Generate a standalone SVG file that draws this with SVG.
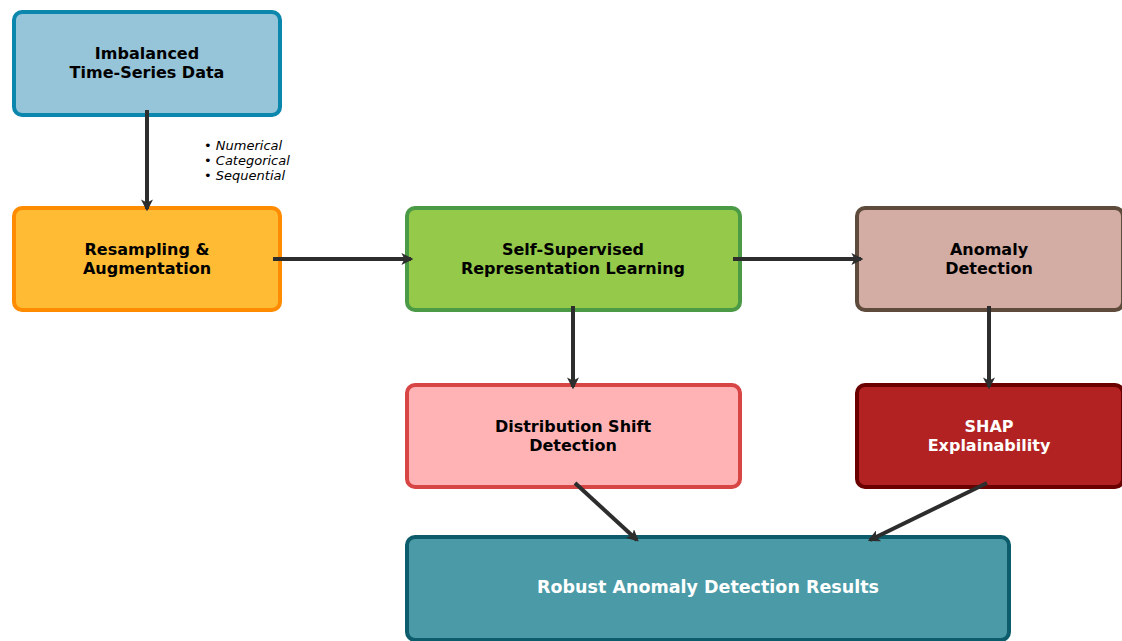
<svg xmlns="http://www.w3.org/2000/svg" width="1122" height="641" viewBox="0 0 1122 641">
<defs>
<style>
.box{stroke-width:4}
.t{font-family:"DejaVu Sans",sans-serif;font-weight:bold;font-size:16px;text-anchor:middle}
.w{fill:#ffffff}
.b{fill:#000000}
.note{font-family:"DejaVu Sans",sans-serif;font-style:italic;font-size:13px;fill:#000}
.c{stroke:#2d2d2d;stroke-width:4;fill:none;marker-end:url(#ah)}
</style>
<marker id="ah" viewBox="0 0 10 10" refX="8" refY="5" markerWidth="3" markerHeight="3" orient="auto" markerUnits="strokeWidth">
<path d="M0,0 L10,5 L0,10 L2.5,5 z" fill="#2d2d2d"/>
</marker>
</defs>
<rect width="1122" height="641" fill="#ffffff"/>
<g id="note">
<text class="note" x="204" y="150">• Numerical</text>
<text class="note" x="204" y="165">• Categorical</text>
<text class="note" x="204" y="180">• Sequential</text>
</g>
<g id="n1">
<rect class="box" x="14" y="12" width="266" height="103" rx="8" fill="#96c4d9" stroke="#0b86ad"/>
<text class="t b" x="147" y="59">Imbalanced</text>
<text class="t b" x="147" y="78">Time-Series Data</text>
</g>
<g id="n2">
<rect class="box" x="14" y="208" width="266" height="102" rx="8" fill="#ffbb33" stroke="#ff8c00"/>
<text class="t b" x="147" y="255">Resampling &amp;</text>
<text class="t b" x="147" y="274">Augmentation</text>
</g>
<g id="n3">
<rect class="box" x="407" y="208" width="333" height="102" rx="8" fill="#94c94a" stroke="#4b9a45"/>
<text class="t b" x="573" y="255">Self-Supervised</text>
<text class="t b" x="573" y="274">Representation Learning</text>
</g>
<g id="n4">
<rect class="box" x="857" y="208" width="266" height="102" rx="8" fill="#d3aca4" stroke="#5e4b3c"/>
<text class="t b" x="989" y="255">Anomaly</text>
<text class="t b" x="989" y="274">Detection</text>
</g>
<g id="n5">
<rect class="box" x="407" y="385" width="333" height="102" rx="8" fill="#ffb3b5" stroke="#d84545"/>
<text class="t b" x="573" y="432">Distribution Shift</text>
<text class="t b" x="573" y="451">Detection</text>
</g>
<g id="n6">
<rect class="box" x="857" y="385" width="266" height="102" rx="8" fill="#b22222" stroke="#6b0000"/>
<text class="t w" x="989" y="432">SHAP</text>
<text class="t w" x="989" y="451">Explainability</text>
</g>
<g id="n7">
<rect class="box" x="407" y="537" width="602" height="103" rx="8" fill="#4a9ba7" stroke="#0d5c6b"/>
<text class="t w" x="708" y="593" style="font-size:17.5px">Robust Anomaly Detection Results</text>
</g>
<g id="connectors">
<line class="c" x1="147" y1="110" x2="147" y2="209"/>
<line class="c" x1="273" y1="259" x2="411" y2="259"/>
<line class="c" x1="733" y1="259" x2="861" y2="259"/>
<line class="c" x1="573" y1="306" x2="573" y2="387"/>
<line class="c" x1="989" y1="306" x2="989" y2="387"/>
<line class="c" x1="575" y1="483" x2="637" y2="540"/>
<line class="c" x1="987" y1="483" x2="870" y2="540"/>
</g>
</svg>
